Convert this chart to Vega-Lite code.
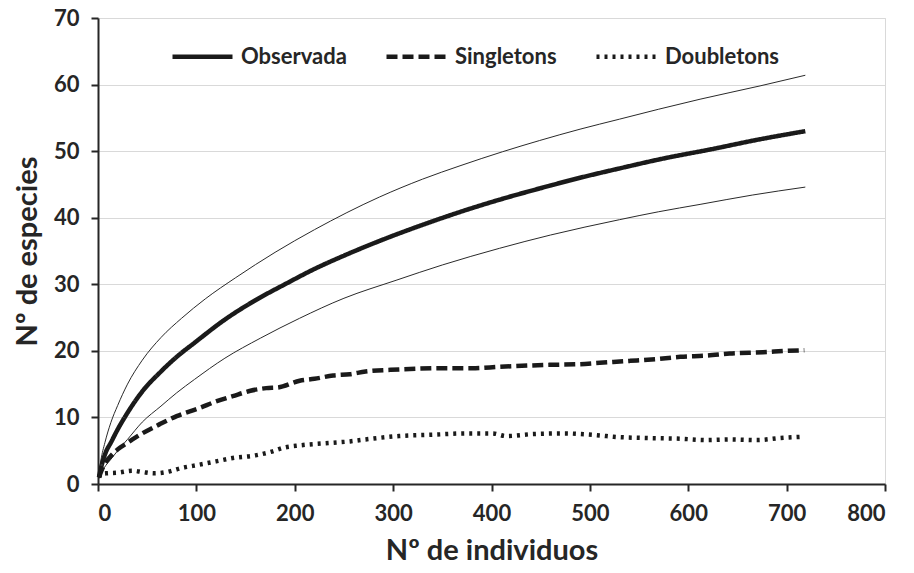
{
"$schema": "https://vega.github.io/schema/vega-lite/v6.json",
"width": 787,
"height": 466,
"autosize": {"type": "none"},
"padding": {"left": 98, "top": 18, "right": 29, "bottom": 89},
"background": "white",
"config": {
  "font": "Lato",
  "view": {"stroke": "#d9d9d9", "strokeWidth": 1},
  "axis": {
    "domainColor": "#262626", "domainWidth": 2, "tickColor": "#262626", "tickWidth": 2, "tickSize": 7,
    "labelFont": "Lato", "labelFontSize": 22, "labelFontWeight": "bold", "labelColor": "#262626",
    "titleFont": "Lato", "titleFontSize": 29, "titleFontWeight": "bold", "titleColor": "#262626"
  }
},
"data": {"values": [
{"serie":"Observada","n":1,"s":1},{"serie":"Observada","n":3,"s":2.4},{"serie":"Observada","n":5,"s":3.5},{"serie":"Observada","n":8,"s":4.8},{"serie":"Observada","n":13,"s":6.2},{"serie":"Observada","n":20,"s":8.2},{"serie":"Observada","n":30,"s":10.7},{"serie":"Observada","n":45,"s":13.9},{"serie":"Observada","n":64,"s":16.9},{"serie":"Observada","n":80,"s":19.1},{"serie":"Observada","n":98,"s":21.2},{"serie":"Observada","n":129,"s":24.7},{"serie":"Observada","n":160,"s":27.6},{"serie":"Observada","n":190,"s":30.0},{"serie":"Observada","n":220,"s":32.3},{"serie":"Observada","n":250,"s":34.3},{"serie":"Observada","n":286,"s":36.5},{"serie":"Observada","n":337,"s":39.3},{"serie":"Observada","n":375,"s":41.2},{"serie":"Observada","n":408,"s":42.7},{"serie":"Observada","n":449,"s":44.4},{"serie":"Observada","n":490,"s":46.0},{"serie":"Observada","n":530,"s":47.4},{"serie":"Observada","n":575,"s":48.9},{"serie":"Observada","n":624,"s":50.3},{"serie":"Observada","n":670,"s":51.7},{"serie":"Observada","n":719,"s":53.0},
{"serie":"IC sup","n":1,"s":1.5},{"serie":"IC sup","n":3,"s":3.6},{"serie":"IC sup","n":7,"s":6.2},{"serie":"IC sup","n":13,"s":9.2},{"serie":"IC sup","n":20,"s":11.8},{"serie":"IC sup","n":30,"s":15.0},{"serie":"IC sup","n":45,"s":18.6},{"serie":"IC sup","n":64,"s":22.0},{"serie":"IC sup","n":85,"s":24.9},{"serie":"IC sup","n":109,"s":27.8},{"serie":"IC sup","n":140,"s":31.0},{"serie":"IC sup","n":180,"s":34.8},{"serie":"IC sup","n":220,"s":38.2},{"serie":"IC sup","n":286,"s":43.1},{"serie":"IC sup","n":330,"s":45.8},{"serie":"IC sup","n":368,"s":47.8},{"serie":"IC sup","n":411,"s":49.9},{"serie":"IC sup","n":449,"s":51.6},{"serie":"IC sup","n":490,"s":53.3},{"serie":"IC sup","n":530,"s":54.8},{"serie":"IC sup","n":570,"s":56.3},{"serie":"IC sup","n":612,"s":57.8},{"serie":"IC sup","n":673,"s":59.8},{"serie":"IC sup","n":719,"s":61.4},
{"serie":"IC inf","n":1,"s":0.8},{"serie":"IC inf","n":3,"s":1.5},{"serie":"IC inf","n":5,"s":2.1},{"serie":"IC inf","n":8,"s":2.8},{"serie":"IC inf","n":13,"s":3.7},{"serie":"IC inf","n":20,"s":5.0},{"serie":"IC inf","n":30,"s":6.7},{"serie":"IC inf","n":45,"s":9.3},{"serie":"IC inf","n":64,"s":11.7},{"serie":"IC inf","n":80,"s":13.7},{"serie":"IC inf","n":98,"s":15.7},{"serie":"IC inf","n":129,"s":18.9},{"serie":"IC inf","n":165,"s":21.9},{"serie":"IC inf","n":205,"s":24.9},{"serie":"IC inf","n":250,"s":27.9},{"serie":"IC inf","n":303,"s":30.6},{"serie":"IC inf","n":350,"s":32.9},{"serie":"IC inf","n":408,"s":35.4},{"serie":"IC inf","n":460,"s":37.4},{"serie":"IC inf","n":530,"s":39.7},{"serie":"IC inf","n":570,"s":40.9},{"serie":"IC inf","n":612,"s":42.0},{"serie":"IC inf","n":665,"s":43.4},{"serie":"IC inf","n":719,"s":44.6},
{"serie":"Singletons","n":1,"s":1},{"serie":"Singletons","n":3,"s":1.8},{"serie":"Singletons","n":5,"s":2.5},{"serie":"Singletons","n":8,"s":3.3},{"serie":"Singletons","n":13,"s":4.2},{"serie":"Singletons","n":20,"s":5.2},{"serie":"Singletons","n":30,"s":6.2},{"serie":"Singletons","n":35,"s":6.7},{"serie":"Singletons","n":45,"s":7.6},{"serie":"Singletons","n":63,"s":9.0},{"serie":"Singletons","n":80,"s":10.2},{"serie":"Singletons","n":103,"s":11.4},{"serie":"Singletons","n":120,"s":12.4},{"serie":"Singletons","n":137,"s":13.2},{"serie":"Singletons","n":155,"s":14.0},{"serie":"Singletons","n":171,"s":14.4},{"serie":"Singletons","n":183,"s":14.5},{"serie":"Singletons","n":205,"s":15.5},{"serie":"Singletons","n":220,"s":15.8},{"serie":"Singletons","n":239,"s":16.3},{"serie":"Singletons","n":256,"s":16.5},{"serie":"Singletons","n":272,"s":16.9},{"serie":"Singletons","n":306,"s":17.2},{"serie":"Singletons","n":353,"s":17.4},{"serie":"Singletons","n":380,"s":17.4},{"serie":"Singletons","n":408,"s":17.6},{"serie":"Singletons","n":459,"s":17.9},{"serie":"Singletons","n":490,"s":18.0},{"serie":"Singletons","n":510,"s":18.2},{"serie":"Singletons","n":541,"s":18.5},{"serie":"Singletons","n":570,"s":18.8},{"serie":"Singletons","n":592,"s":19.1},{"serie":"Singletons","n":620,"s":19.3},{"serie":"Singletons","n":642,"s":19.6},{"serie":"Singletons","n":676,"s":19.8},{"serie":"Singletons","n":700,"s":20.0},{"serie":"Singletons","n":718,"s":20.1},
{"serie":"Doubletons","n":1,"s":1},{"serie":"Doubletons","n":3,"s":1.5},{"serie":"Doubletons","n":8,"s":1.6},{"serie":"Doubletons","n":20,"s":1.7},{"serie":"Doubletons","n":35,"s":2.0},{"serie":"Doubletons","n":45,"s":1.8},{"serie":"Doubletons","n":57,"s":1.6},{"serie":"Doubletons","n":70,"s":1.8},{"serie":"Doubletons","n":85,"s":2.4},{"serie":"Doubletons","n":103,"s":2.9},{"serie":"Doubletons","n":120,"s":3.4},{"serie":"Doubletons","n":137,"s":3.9},{"serie":"Doubletons","n":160,"s":4.3},{"serie":"Doubletons","n":175,"s":4.8},{"serie":"Doubletons","n":190,"s":5.5},{"serie":"Doubletons","n":205,"s":5.8},{"serie":"Doubletons","n":239,"s":6.2},{"serie":"Doubletons","n":256,"s":6.4},{"serie":"Doubletons","n":272,"s":6.7},{"serie":"Doubletons","n":306,"s":7.2},{"serie":"Doubletons","n":340,"s":7.4},{"serie":"Doubletons","n":374,"s":7.6},{"serie":"Doubletons","n":401,"s":7.6},{"serie":"Doubletons","n":415,"s":7.2},{"serie":"Doubletons","n":442,"s":7.5},{"serie":"Doubletons","n":476,"s":7.6},{"serie":"Doubletons","n":490,"s":7.5},{"serie":"Doubletons","n":510,"s":7.3},{"serie":"Doubletons","n":524,"s":7.1},{"serie":"Doubletons","n":558,"s":6.9},{"serie":"Doubletons","n":592,"s":6.8},{"serie":"Doubletons","n":619,"s":6.6},{"serie":"Doubletons","n":642,"s":6.7},{"serie":"Doubletons","n":670,"s":6.6},{"serie":"Doubletons","n":693,"s":6.9},{"serie":"Doubletons","n":716,"s":7.1}
]},
"encoding": {
  "x": {"field": "n", "type": "quantitative", "scale": {"domain": [0, 800], "nice": false, "zero": true},
    "axis": {"values": [0,100,200,300,400,500,600,700,800], "grid": false, "labelPadding": 12, "title": "Nº de individuos", "titlePadding": 12}},
  "y": {"field": "s", "type": "quantitative", "scale": {"domain": [0, 70], "nice": false},
    "axis": {"values": [0,10,20,30,40,50,60,70], "grid": true, "gridColor": "#d9d9d9", "gridWidth": 1, "labelPadding": 12, "title": "Nº de especies", "titlePadding": 11}}
},
"layer": [
  {
    "transform": [{"filter": "datum.serie === 'IC sup' || datum.serie === 'IC inf'"}],
    "mark": {"type": "line", "interpolate": "monotone", "strokeWidth": 1, "color": "#2a2a2a"},
    "encoding": {"detail": {"field": "serie", "type": "nominal"}}
  },
  {
    "transform": [{"filter": "datum.serie !== 'IC sup' && datum.serie !== 'IC inf'"}],
    "mark": {"type": "line", "interpolate": "monotone", "color": "#1a1a1a"},
    "encoding": {
      "strokeDash": {"field": "serie", "type": "nominal",
        "scale": {"domain": ["Observada", "Singletons", "Doubletons"], "range": [[1, 0], [11, 5], [3, 5]]},
        "legend": {"title": null, "orient": "none", "legendX": 72, "legendY": 6, "direction": "horizontal",
          "symbolType": "stroke", "symbolSize": 3600, "symbolStrokeColor": "#1a1a1a",
          "labelFont": "Lato", "labelFontSize": 22, "labelFontWeight": "bold", "labelColor": "#262626",
          "labelOffset": 6, "columnPadding": 30}},
      "strokeWidth": {"field": "serie", "type": "nominal",
        "scale": {"domain": ["Observada", "Singletons", "Doubletons"], "range": [4.5, 4.5, 3.5]},
        "legend": {"title": null, "orient": "none", "legendX": 72, "legendY": 6, "direction": "horizontal",
          "symbolType": "stroke", "symbolSize": 3600, "symbolStrokeColor": "#1a1a1a",
          "labelFont": "Lato", "labelFontSize": 22, "labelFontWeight": "bold", "labelColor": "#262626",
          "labelOffset": 6, "columnPadding": 30}}
    }
  }
]
}
